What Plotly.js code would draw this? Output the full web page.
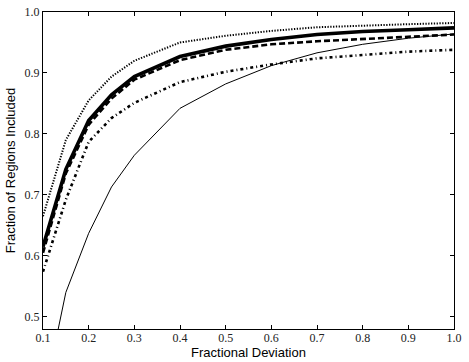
<!DOCTYPE html>
<html>
<head>
<meta charset="utf-8">
<script src="https://cdn.plot.ly/plotly-3.0.1.min.js"></script>
<style>
  html, body { margin: 0; padding: 0; background: #fff; }
  #plot { width: 469px; height: 362px; }
</style>
</head>
<body>
<div id="plot"></div>
<script>
// fractional deviation (x) shared by all curves
const deviation = [0.1, 0.15, 0.2, 0.25, 0.3, 0.4, 0.5, 0.6, 0.7, 0.8, 0.9, 1.0];

// fraction of regions included
const thinSolid = [0.36, 0.54, 0.637, 0.713, 0.765, 0.842, 0.882, 0.912, 0.933, 0.947, 0.957, 0.964];
const thickSolid = [0.615, 0.742, 0.822, 0.864, 0.894, 0.927, 0.944, 0.955, 0.963, 0.968, 0.971, 0.974];
const dashed = [0.605, 0.735, 0.815, 0.858, 0.889, 0.921, 0.938, 0.947, 0.952, 0.956, 0.960, 0.963];
const dotted = [0.665, 0.79, 0.855, 0.894, 0.92, 0.95, 0.961, 0.969, 0.975, 0.978, 0.980, 0.982];
const dashDot = [0.574, 0.692, 0.787, 0.826, 0.851, 0.885, 0.902, 0.914, 0.924, 0.930, 0.935, 0.938];

const traces = [
  { x: deviation, y: thinSolid, mode: "lines", line: { color: "#000", width: 1 } },
  { x: deviation, y: dotted, mode: "lines", line: { color: "#000", width: 2, dash: "1.3px,1.5px" } },
  { x: deviation, y: dashDot, mode: "lines", line: { color: "#000", width: 2.6, dash: "3px,3px,1px,3px" } },
  { x: deviation, y: dashed, mode: "lines", line: { color: "#000", width: 2.6, dash: "6px,3px" } },
  { x: deviation, y: thickSolid, mode: "lines", line: { color: "#000", width: 3.6 } }
];

const axisCommon = {
  showgrid: false,
  zeroline: false,
  showline: true,
  linecolor: "#000",
  linewidth: 1,
  mirror: "ticks",
  ticks: "inside",
  ticklen: 4,
  tickcolor: "#000",
  tickfont: { family: "Liberation Serif", size: 12, color: "#222" }
};

const layout = {
  width: 469,
  height: 362,
  margin: { l: 43, r: 15, t: 12, b: 33 },
  showlegend: false,
  paper_bgcolor: "#fff",
  plot_bgcolor: "#fff",
  xaxis: Object.assign({}, axisCommon, {
    range: [0.1, 1.0],
    tickvals: [0.1, 0.2, 0.3, 0.4, 0.5, 0.6, 0.7, 0.8, 0.9, 1.0],
    ticktext: ["0.1", "0.2", "0.3", "0.4", "0.5", "0.6", "0.7", "0.8", "0.9", "1.0"],
    ticklabelstandoff: -2,
    title: { text: "Fractional Deviation", font: { family: "Liberation Sans", size: 13, color: "#000" }, standoff: 0 }
  }),
  yaxis: Object.assign({}, axisCommon, {
    range: [0.48, 1.0],
    tickvals: [0.5, 0.6, 0.7, 0.8, 0.9, 1.0],
    ticktext: ["0.5", "0.6", "0.7", "0.8", "0.9", "1.0"],
    title: { text: "Fraction of Regions Included", font: { family: "Liberation Sans", size: 13, color: "#000" }, standoff: 6 }
  })
};

Plotly.newPlot("plot", traces, layout, { displayModeBar: false, staticPlot: true });
</script>
</body>
</html>
